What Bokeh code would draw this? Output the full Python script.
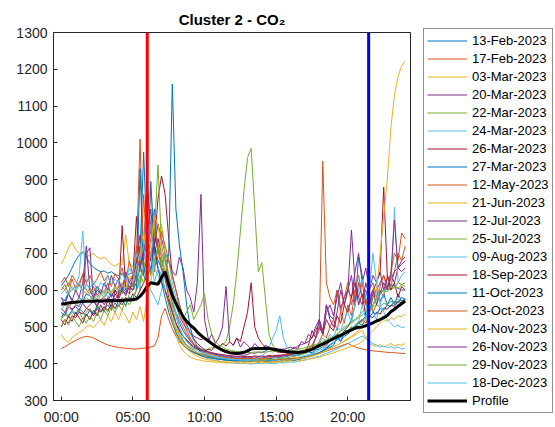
from bokeh.plotting import figure
from bokeh.layouts import row
from bokeh.models import Range1d, FixedTicker, Legend, LegendItem, Span
from bokeh.embed import file_html
from bokeh.resources import INLINE

# time grid: every 15 minutes, in hours
hours = [i / 4 for i in range(97)]

s_13feb = [612, 625, 640, 660, 680, 695, 702, 690, 672, 662, 655, 650, 652, 646, 650, 642,
           640, 646, 638, 644, 648, 655, 700, 975, 720, 760, 820, 700, 680, 640, 600, 565,
           535, 510, 490, 475, 462, 452, 445, 440, 436, 432, 428, 425, 422, 420, 418, 417,
           416, 415, 415, 414, 414, 415, 413, 414, 415, 416, 414, 415, 416, 418, 417, 420,
           422, 421, 424, 426, 428, 432, 430, 437, 440, 446, 444, 452, 456, 470, 462, 475,
           480, 492, 500, 510, 505, 520, 540, 560, 575, 590, 600, 610, 615, 612, 605, 600,
           600]
s_17feb = [600, 615, 590, 630, 605, 620, 640, 600, 590, 610, 585, 600, 595, 620, 580, 605,
           610, 590, 640, 600, 620, 700, 1010, 650, 700, 780, 650, 720, 690, 650, 600, 560,
           540, 520, 500, 480, 465, 452, 442, 435, 428, 424, 420, 418, 417, 415, 418, 414,
           413, 415, 412, 414, 416, 413, 415, 418, 420, 417, 422, 419, 421, 424, 420, 426,
           428, 425, 430, 433, 436, 440, 452, 445, 460, 480, 470, 500, 520, 490, 540, 510,
           560, 530, 600, 580, 620, 560, 590, 540, 560, 600, 580, 640, 610, 650, 700, 680,
           720]
s_03mar = [670, 690, 715, 730, 710, 700, 705, 690, 695, 700, 690, 685, 690, 680, 670, 665,
           672, 668, 750, 670, 665, 680, 700, 760, 820, 880, 760, 700, 650, 600, 560, 520,
           490, 470, 455, 445, 437, 430, 425, 422, 419, 417, 415, 414, 412, 411, 410, 410,
           409, 410, 408, 409, 410, 408, 409, 411, 410, 409, 412, 410, 411, 413, 412, 415,
           414, 416, 418, 417, 420, 422, 425, 428, 430, 434, 438, 442, 446, 450, 455, 460,
           466, 472, 478, 485, 490, 470, 455, 450, 448, 452, 446, 450, 455, 448, 452, 450,
           455]
s_20mar = [540, 530, 555, 545, 560, 555, 580, 700, 715, 570, 560, 575, 580, 570, 590, 575,
           585, 600, 590, 620, 610, 680, 750, 700, 895, 760, 720, 780, 740, 700, 680, 650,
           640, 690, 660, 600, 580, 540, 620, 860, 520, 470, 455, 445, 440, 435, 430, 428,
           426, 425, 424, 423, 425, 430, 428, 432, 430, 435, 440, 438, 436, 440, 438, 442,
           445, 440, 448, 452, 455, 460, 470, 490, 510, 480, 560, 530, 520, 600, 550, 580,
           600, 640, 560, 620, 580, 600, 560, 590, 600, 620, 640, 610, 630, 650, 660, 670,
           680]
s_22mar = [520, 535, 525, 540, 530, 545, 520, 540, 550, 535, 560, 545, 555, 540, 565, 550,
           560, 580, 555, 590, 600, 640, 620, 700, 760, 680, 720, 660, 640, 600, 560, 520,
           495, 475, 460, 450, 445, 440, 438, 436, 440, 438, 445, 442, 448, 452, 460, 500,
           560, 650, 760, 870, 960, 985, 820, 650, 675, 575, 480, 450, 440, 436, 432, 430,
           428, 430, 432, 435, 438, 442, 446, 450, 455, 460, 465, 470, 475, 480, 490, 500,
           505, 515, 520, 530, 540, 550, 545, 555, 560, 555, 565, 560, 570, 565, 575, 570,
           575]
s_24mar = [560, 575, 590, 600, 610, 640, 760, 620, 600, 590, 580, 595, 585, 600, 590, 610,
           600, 615, 605, 620, 610, 640, 600, 680, 620, 600, 580, 560, 600, 650, 640, 580,
           530, 490, 465, 450, 440, 432, 426, 421, 417, 414, 411, 409, 407, 405, 404, 403,
           402, 401, 400, 401, 400, 399, 400, 401, 400, 402, 401, 400, 401, 403, 402, 404,
           405, 404, 406, 408, 410, 412, 415, 418, 420, 424, 428, 432, 436, 440, 445, 450,
           455, 460, 465, 470, 475, 470, 460, 455, 450, 445, 448, 444, 446, 442, 445, 440,
           442]
s_26mar = [500, 520, 510, 530, 525, 540, 535, 550, 545, 530, 550, 540, 555, 545, 560, 550,
           570, 560, 580, 570, 590, 580, 600, 620, 640, 660, 720, 850, 910, 860, 740, 640,
           600, 560, 530, 505, 485, 468, 455, 446, 438, 433, 430, 428, 426, 425, 423, 422,
           421, 420, 420, 419, 420, 419, 421, 420, 421, 420, 422, 421, 423, 422, 425, 424,
           426, 428, 427, 430, 432, 435, 438, 442, 446, 452, 450, 462, 465, 480, 472, 490,
           488, 500, 495, 512, 520, 510, 530, 525, 540, 535, 552, 548, 560, 555, 570, 565,
           575]
s_27mar = [580, 570, 590, 575, 565, 580, 570, 590, 585, 575, 600, 590, 580, 595, 585, 600,
           590, 605, 595, 610, 600, 620, 660, 640, 700, 650, 720, 680, 660, 640, 700, 1160,
           820, 720, 650, 560, 500, 465, 445, 432, 425, 420, 417, 415, 413, 411, 410, 409,
           408, 407, 408, 406, 407, 406, 408, 407, 408, 407, 409, 408, 409, 411, 410, 412,
           413, 415, 414, 417, 419, 421, 424, 427, 430, 434, 440, 445, 450, 470, 460, 490,
           500, 520, 560, 690, 640, 560, 540, 580, 600, 570, 590, 560, 580, 560, 590, 570,
           575]
s_12may = [441, 446, 452, 458, 463, 468, 472, 474, 473, 470, 465, 460, 455, 451, 448, 446,
           444, 443, 442, 441, 440, 440, 441, 442, 443, 445, 448, 470, 530, 550, 520, 495,
           475, 460, 450, 442, 436, 432, 428, 425, 422, 420, 418, 417, 416, 415, 414, 414,
           413, 412, 412, 411, 412, 411, 411, 410, 411, 410, 411, 410, 411, 412, 411, 413,
           414, 413, 415, 416, 418, 420, 422, 425, 428, 431, 434, 438, 441, 444, 448, 452,
           455, 450, 446, 442, 440, 438, 436, 435, 434, 433, 432, 431, 430, 430, 429, 428,
           428]
s_21jun = [480, 465, 458, 470, 478, 485, 490, 500, 505, 498, 510, 520, 505, 530, 515, 540,
           520, 545, 530, 510, 540, 520, 555, 515, 580, 620, 680, 720, 780, 700, 620, 540,
           480, 450, 435, 425, 418, 414, 411, 409, 407, 406, 405, 404, 404, 403, 402, 402,
           402, 403, 402, 401, 402, 401, 402, 403, 402, 403, 404, 403, 404, 405, 404, 406,
           407, 408, 407, 409, 410, 412, 414, 416, 418, 421, 424, 427, 430, 433, 436, 440,
           443, 447, 450, 454, 460, 470, 480, 490, 500, 510, 520, 515, 525, 520, 530, 528,
           535]
s_12jul = [550, 540, 560, 548, 555, 545, 565, 550, 560, 570, 555, 575, 560, 580, 565, 590,
           575, 600, 585, 610, 600, 650, 720, 680, 760, 820, 700, 740, 700, 680, 640, 600,
           560, 530, 510, 495, 485, 475, 470, 465, 470, 460, 480, 455, 470, 500, 610, 460,
           450, 470, 445, 460, 450, 440, 455, 445, 440, 450, 445, 438, 442, 436, 440, 435,
           438, 445, 440, 460, 455, 480, 470, 500, 520, 490, 540, 560, 530, 580, 620, 560,
           600, 580, 650, 700, 620, 660, 600, 640, 620, 650, 600, 630, 640, 620, 660, 650,
           660]
s_25jul = [610, 600, 620, 605, 595, 615, 600, 590, 605, 595, 610, 600, 590, 605, 595, 610,
           600, 590, 615, 605, 610, 600, 640, 620, 660, 700, 750, 940, 720, 680, 620, 560,
           510, 480, 462, 450, 442, 436, 431, 427, 424, 421, 419, 417, 416, 415, 413, 412,
           412, 411, 410, 411, 410, 411, 409, 410, 411, 410, 412, 411, 412, 414, 413, 416,
           418, 420, 422, 425, 428, 432, 436, 441, 446, 452, 458, 465, 472, 480, 488, 495,
           503, 510, 518, 525, 532, 540, 560, 580, 590, 600, 595, 605, 600, 610, 605, 615,
           610]
s_09aug = [545, 560, 550, 565, 570, 555, 580, 565, 575, 590, 570, 585, 600, 580, 595, 610,
           590, 620, 600, 630, 640, 620, 680, 740, 700, 780, 660, 640, 620, 700, 680, 620,
           580, 560, 530, 500, 480, 462, 450, 440, 432, 426, 421, 418, 416, 414, 413, 411,
           410, 409, 408, 408, 407, 408, 407, 406, 407, 406, 408, 407, 408, 407, 409, 410,
           411, 410, 413, 415, 417, 420, 423, 440, 455, 470, 460, 480, 470, 500, 490, 520,
           540, 510, 560, 600, 630, 580, 560, 540, 520, 560, 590, 620, 600, 825, 620, 640,
           650]
s_18sep = [520, 505, 530, 515, 540, 525, 510, 535, 520, 545, 530, 560, 540, 575, 550, 600,
           580, 775, 600, 590, 640, 800, 660, 700, 750, 680, 720, 660, 620, 600, 570, 540,
           510, 490, 475, 462, 452, 445, 440, 436, 433, 440, 436, 450, 445, 455, 448, 460,
           450, 470, 460, 500, 540, 620, 500, 470, 455, 445, 440, 436, 433, 430, 432, 428,
           430, 427, 429, 432, 430, 450, 490, 470, 500, 480, 520, 500, 490, 530, 510, 560,
           540, 580, 620, 560, 590, 530, 560, 600, 620, 650, 880, 640, 600, 620, 580, 610,
           600]
s_11oct = [525, 540, 530, 545, 535, 550, 540, 530, 545, 535, 555, 540, 550, 560, 545, 565,
           555, 570, 560, 580, 575, 600, 930, 640, 620, 895, 700, 660, 620, 580, 540, 510,
           485, 465, 452, 442, 435, 430, 426, 422, 419, 417, 415, 413, 412, 411, 410, 409,
           408, 408, 407, 407, 406, 407, 406, 405, 406, 405, 407, 406, 407, 406, 408, 409,
           410, 409, 411, 413, 415, 418, 421, 425, 430, 436, 442, 450, 458, 465, 472, 480,
           488, 495, 502, 510, 518, 530, 525, 540, 535, 550, 545, 560, 555, 570, 565, 580,
           575]
s_23oct = [620, 635, 610, 640, 625, 610, 645, 620, 640, 615, 630, 650, 625, 640, 610, 645,
           630, 660, 620, 680, 640, 720, 650, 860, 680, 740, 800, 700, 760, 720, 680, 640,
           600, 560, 520, 490, 470, 455, 445, 438, 432, 428, 425, 422, 420, 418, 417, 416,
           415, 414, 414, 413, 414, 413, 415, 414, 415, 414, 416, 418, 420, 418, 422, 425,
           423, 427, 430, 428, 432, 436, 450, 470, 490, 950, 620, 580, 560, 600, 540, 580,
           620, 560, 600, 640, 580, 560, 600, 620, 580, 610, 640, 600, 650, 700, 680, 755,
           740]
s_04nov = [555, 565, 550, 570, 560, 575, 565, 580, 570, 585, 575, 590, 580, 600, 590, 610,
           600, 620, 605, 640, 620, 660, 700, 760, 690, 720, 800, 780, 700, 650, 600, 550,
           505, 475, 455, 442, 432, 425, 420, 416, 413, 411, 409, 408, 407, 406, 405, 405,
           405, 404, 405, 404, 405, 404, 406, 405, 406, 405, 404, 406, 407, 406, 408, 410,
           409, 412, 414, 413, 416, 418, 421, 424, 427, 431, 435, 440, 445, 450, 456, 462,
           468, 475, 482, 490, 500, 520, 540, 560, 600, 700, 800, 900, 1040, 1130, 1180, 1210,
           1222]
s_26nov = [580, 560, 590, 570, 600, 580, 620, 720, 600, 580, 610, 590, 620, 600, 640, 610,
           630, 600, 650, 620, 640, 680, 660, 720, 700, 680, 740, 720, 660, 630, 580, 540,
           510, 490, 475, 465, 455, 448, 442, 438, 434, 431, 428, 426, 424, 422, 421, 420,
           419, 418, 418, 417, 418, 417, 419, 418, 419, 418, 420, 419, 421, 420, 423, 422,
           425, 424, 427, 430, 433, 437, 441, 470, 520, 480, 560, 520, 500, 540, 600, 560,
           600, 763, 620, 580, 560, 620, 580, 600, 560, 590, 620, 600, 640, 790, 660, 680,
           690]
s_29nov = [500, 520, 505, 530, 515, 500, 525, 510, 530, 515, 540, 520, 545, 530, 555, 540,
           560, 545, 575, 560, 580, 600, 620, 660, 700, 640, 680, 720, 660, 700, 640, 600,
           560, 530, 520, 540, 560, 520, 540, 560, 590, 520, 480, 460, 450, 445, 440, 437,
           435, 433, 432, 430, 431, 430, 432, 431, 432, 431, 433, 432, 434, 433, 436, 435,
           437, 436, 439, 441, 443, 446, 449, 452, 455, 459, 463, 467, 471, 476, 481, 486,
           491, 497, 503, 509, 515, 525, 540, 560, 575, 590, 600, 595, 610, 605, 620, 615,
           620]
s_18dec = [590, 600, 585, 610, 600, 620, 595, 615, 605, 625, 600, 620, 610, 640, 615, 630,
           620, 645, 625, 660, 640, 700, 680, 720, 650, 700, 620, 660, 640, 600, 620, 580,
           540, 500, 475, 460, 450, 442, 436, 431, 427, 424, 421, 419, 417, 416, 414, 413,
           412, 411, 411, 410, 411, 410, 412, 415, 420, 430, 445, 470, 490, 530, 470, 445,
           430, 425, 422, 420, 422, 425, 428, 432, 436, 440, 446, 452, 458, 465, 472, 480,
           488, 496, 505, 515, 560, 520, 600, 700, 620, 560, 540, 520, 510, 500, 505, 498,
           500]
profile = [562, 563, 565, 566, 567, 568, 569, 570, 570, 570, 571, 570, 571, 571, 572, 571,
           572, 572, 573, 573, 574, 576, 583, 595, 610, 620, 618, 616, 635, 650, 615, 585,
           565, 545, 528, 515, 505, 497, 486, 477, 469, 462, 455, 448, 442, 437, 433, 430,
           429, 428, 429, 431, 435, 440, 441, 441, 441, 442, 441, 440, 438, 436, 434, 433,
           432, 431, 431, 432, 433, 436, 439, 444, 449, 453, 458, 463, 468, 473, 477, 482,
           487, 492, 496, 499, 500, 503, 507, 511, 516, 520, 525, 531, 541, 548, 556, 563,
           570]

day_labels = ["13-Feb-2023", "17-Feb-2023", "03-Mar-2023", "20-Mar-2023", "22-Mar-2023",
              "24-Mar-2023", "26-Mar-2023", "27-Mar-2023", "12-May-2023", "21-Jun-2023",
              "12-Jul-2023", "25-Jul-2023", "09-Aug-2023", "18-Sep-2023", "11-Oct-2023",
              "23-Oct-2023", "04-Nov-2023", "26-Nov-2023", "29-Nov-2023", "18-Dec-2023"]
day_series = [s_13feb, s_17feb, s_03mar, s_20mar, s_22mar, s_24mar, s_26mar, s_27mar,
              s_12may, s_21jun, s_12jul, s_25jul, s_09aug, s_18sep, s_11oct, s_23oct,
              s_04nov, s_26nov, s_29nov, s_18dec]

x_ticks = [0, 5, 10, 15, 20]
x_tick_labels = ["00:00", "05:00", "10:00", "15:00", "20:00"]
y_ticks = [300, 400, 500, 600, 700, 800, 900, 1000, 1100, 1200, 1300]
start_time = 6.0      # red marker
end_time = 21.45      # blue marker

palette = ["#0072BD", "#D95319", "#EDB120", "#7E2F8E", "#77AC30", "#4DBEEE", "#A2142F"]
FONT = "Liberation Sans"
INK = "#262626"

# ---------- main chart ----------
p = figure(width=418, height=427, output_backend="svg", toolbar_location=None,
           x_range=Range1d(-0.54, 24.37), y_range=Range1d(300, 1300),
           min_border_left=53, min_border_right=8, min_border_top=32, min_border_bottom=26)
p.xgrid.visible = False
p.ygrid.visible = False
p.outline_line_color = INK
p.outline_line_alpha = 1
p.background_fill_color = "white"

p.title.text = "Cluster 2 - CO\u2082"
p.title.align = "center"
p.title.text_font = FONT
p.title.text_font_size = "15px"
p.title.text_font_style = "bold"
p.title.text_color = "black"
p.title.standoff = 9

for i, ys in enumerate(day_series):
    assert len(ys) == len(hours), day_labels[i]
    p.line(hours, ys, line_color=palette[i % 7], line_width=1)
p.line(hours, profile, line_color="black", line_width=3)

p.add_layout(Span(location=start_time, dimension="height", line_color="#FF0000", line_width=3))
p.add_layout(Span(location=end_time, dimension="height", line_color="#0000FF", line_width=3))

for ax in (p.xaxis[0], p.yaxis[0]):
    ax.axis_line_color = INK
    ax.major_tick_line_color = INK
    ax.minor_tick_line_color = None
    ax.major_tick_in = 4
    ax.major_tick_out = 0
    ax.major_label_text_font = FONT
    ax.major_label_text_color = INK
    ax.major_label_text_font_size = "14px"

xa = p.xaxis[0]
xa.ticker = FixedTicker(ticks=x_ticks)
xa.major_label_overrides = {t: s for t, s in zip(x_ticks, x_tick_labels)}
xa.major_label_standoff = 8
ya = p.yaxis[0]
ya.ticker = FixedTicker(ticks=y_ticks)
ya.major_label_standoff = 6

# ---------- legend panel ----------
q = figure(width=137, height=427, output_backend="svg", toolbar_location=None,
           x_range=Range1d(0, 1), y_range=Range1d(0, 1),
           x_axis_location=None, y_axis_location=None, min_border=0,
           frame_align=False)
q.xgrid.visible = False
q.ygrid.visible = False
q.outline_line_color = None
q.background_fill_color = "white"

items = []
for i, lab in enumerate(day_labels):
    r = q.line([-5, -4], [-5, -4], line_color=palette[i % 7], line_width=1)
    items.append(LegendItem(label=lab, renderers=[r]))
rp = q.line([-5, -4], [-5, -4], line_color="black", line_width=3)
items.append(LegendItem(label="Profile", renderers=[rp]))

legend = Legend(items=items, location=(5, 14), orientation="vertical",
                label_text_font=FONT, label_text_font_size="13px", label_text_color="black",
                glyph_width=40, glyph_height=17, label_height=17, spacing=1, padding=3,
                label_standoff=5, border_line_color=INK, border_line_width=1,
                background_fill_color="white", background_fill_alpha=1, margin=0)
q.add_layout(legend)

layout = row(p, q, spacing=0)
open("out.html", "w").write(file_html(layout, INLINE))
